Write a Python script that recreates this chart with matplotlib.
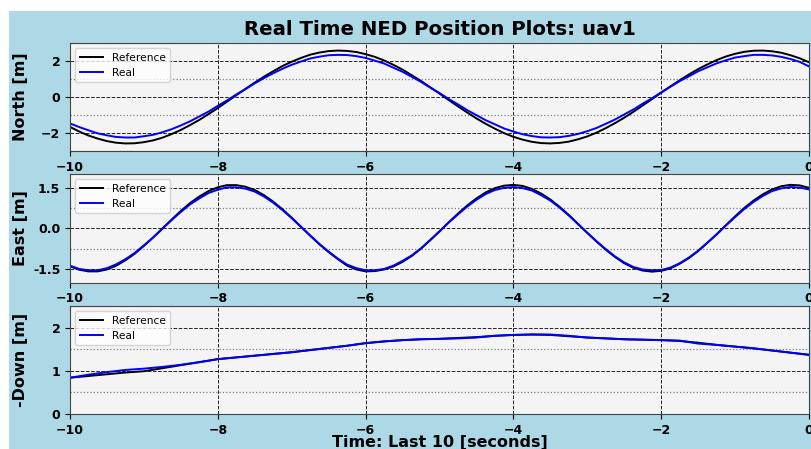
import matplotlib
matplotlib.use("Agg")
import matplotlib.pyplot as plt
from matplotlib.patches import Rectangle
from matplotlib.ticker import MultipleLocator

# time axes (seconds, last 10 s)
time_fine = [-10 + 0.125 * k for k in range(81)]
time_down = [-10 + 0.25 * k for k in range(41)]

north_ref = [-1.66, -1.92, -2.14, -2.31, -2.45, -2.54, -2.58, -2.57, -2.51, -2.41,
             -2.26, -2.06, -1.83, -1.56, -1.27, -0.95, -0.61, -0.26, 0.10, 0.45,
             0.80, 1.13, 1.43, 1.72, 1.96, 2.17, 2.35, 2.47, 2.55, 2.58,
             2.56, 2.50, 2.38, 2.23, 2.03, 1.79, 1.52, 1.21, 0.89, 0.54,
             0.19, -0.17, -0.52, -0.86, -1.19, -1.49, -1.76, -2.01, -2.21, -2.37,
             -2.49, -2.56, -2.58, -2.55, -2.48, -2.35, -2.19, -1.98, -1.73, -1.45,
             -1.15, -0.82, -0.47, -0.12, 0.24, 0.59, 0.93, 1.25, 1.55, 1.81,
             2.05, 2.25, 2.40, 2.51, 2.57, 2.58, 2.54, 2.46, 2.32, 2.15,
             1.93]
north_real = [-1.47, -1.67, -1.85, -2.02, -2.13, -2.22, -2.25, -2.25, -2.18, -2.10,
              -1.96, -1.79, -1.58, -1.35, -1.08, -0.81, -0.49, -0.19, 0.14, 0.44,
              0.76, 1.05, 1.32, 1.57, 1.79, 1.97, 2.14, 2.24, 2.32, 2.34,
              2.33, 2.27, 2.17, 2.02, 1.86, 1.63, 1.40, 1.12, 0.84, 0.52,
              0.22, -0.11, -0.41, -0.73, -1.01, -1.29, -1.52, -1.75, -1.92, -2.07,
              -2.17, -2.24, -2.25, -2.23, -2.16, -2.05, -1.90, -1.72, -1.49, -1.25,
              -0.97, -0.69, -0.37, -0.07, 0.26, 0.57, 0.88, 1.15, 1.43, 1.65,
              1.87, 2.04, 2.19, 2.27, 2.34, 2.34, 2.31, 2.23, 2.11, 1.95,
              1.70]

east_ref = [-1.40, -1.53, -1.59, -1.59, -1.52, -1.38, -1.18, -0.94, -0.65, -0.34,
            -0.01, 0.32, 0.64, 0.93, 1.17, 1.37, 1.51, 1.59, 1.59, 1.53,
            1.41, 1.22, 0.98, 0.70, 0.39, 0.06, -0.27, -0.59, -0.88, -1.14,
            -1.38, -1.52, -1.59, -1.58, -1.52, -1.41, -1.24, -1.02, -0.75, -0.44,
            -0.11, 0.22, 0.54, 0.84, 1.10, 1.32, 1.48, 1.57, 1.60, 1.56,
            1.45, 1.28, 1.06, 0.79, 0.49, 0.16, -0.17, -0.49, -0.79, -1.06,
            -1.29, -1.46, -1.56, -1.60, -1.57, -1.48, -1.31, -1.10, -0.84, -0.54,
            -0.22, 0.11, 0.44, 0.75, 1.02, 1.25, 1.43, 1.55, 1.60, 1.58,
            1.49]
east_real = [-1.38, -1.50, -1.55, -1.55, -1.47, -1.33, -1.14, -0.91, -0.63, -0.34,
             -0.02, 0.30, 0.60, 0.88, 1.10, 1.30, 1.42, 1.51, 1.51, 1.46,
             1.35, 1.17, 0.94, 0.67, 0.37, 0.05, -0.27, -0.58, -0.86, -1.12,
             -1.34, -1.47, -1.55, -1.55, -1.50, -1.38, -1.20, -1.00, -0.74, -0.43,
             -0.12, 0.21, 0.51, 0.80, 1.05, 1.26, 1.41, 1.49, 1.52, 1.48,
             1.39, 1.22, 1.02, 0.76, 0.47, 0.15, -0.17, -0.48, -0.77, -1.04,
             -1.26, -1.43, -1.52, -1.55, -1.54, -1.45, -1.29, -1.08, -0.83, -0.53,
             -0.23, 0.10, 0.41, 0.71, 0.97, 1.19, 1.37, 1.47, 1.52, 1.50,
             1.43]

down_ref = [0.84, 0.88, 0.92, 0.96, 0.99, 1.06, 1.13, 1.20, 1.27, 1.31,
            1.35, 1.39, 1.43, 1.48, 1.53, 1.58, 1.64, 1.68, 1.71, 1.73,
            1.74, 1.76, 1.78, 1.81, 1.83, 1.84, 1.83, 1.80, 1.77, 1.75,
            1.73, 1.72, 1.71, 1.69, 1.65, 1.60, 1.56, 1.52, 1.47, 1.42, 1.37]
down_real = [0.84, 0.91, 0.97, 1.02, 1.05, 1.09, 1.14, 1.20, 1.27, 1.31,
             1.35, 1.39, 1.43, 1.48, 1.53, 1.58, 1.64, 1.68, 1.71, 1.73,
             1.74, 1.75, 1.77, 1.81, 1.83, 1.84, 1.84, 1.81, 1.77, 1.75,
             1.73, 1.72, 1.71, 1.70, 1.63, 1.60, 1.56, 1.52, 1.47, 1.42, 1.37]

panels = [
    ("North [m]", time_fine, north_ref, north_real, (-3, 3), [-2, 0, 2], 1.0, None),
    ("East [m]", time_fine, east_ref, east_real, (-2, 2), [-1.5, 0.0, 1.5], 0.75, "%.1f"),
    ("-Down [m]", time_down, down_ref, down_real, (0, 2.5), [0, 1, 2], 0.5, None),
]
x_ticks = [-10, -8, -6, -4, -2, 0]

W, H = 812, 449
fig = plt.figure(figsize=(W / 100, H / 100), dpi=100, facecolor="white")
fig.patches.append(Rectangle((9 / W, 0), 1 - 9 / W, 1 - 11 / H,
                             transform=fig.transFigure, facecolor="#add8e6",
                             edgecolor="none", zorder=-10))

boxes = [(43, 151), (174, 282.5), (306, 414)]
left, right = 70, 809
axes = []
for (top, bot), (ylab, tt, ref, real, ylim, yt, minor, fmt) in zip(boxes, panels):
    ax = fig.add_axes([left / W, (H - bot) / H, (right - left) / W, (bot - top) / H])
    ax.set_facecolor("#f4f4f4")
    ax.plot(tt, ref, color="black", lw=1.4, label="Reference")
    ax.plot(tt, real, color="blue", lw=1.4, label="Real")
    ax.set_xlim(-10, 0)
    ax.set_ylim(*ylim)
    ax.set_xticks(x_ticks)
    ax.set_yticks(yt)
    if fmt:
        ax.set_yticklabels([fmt % v for v in yt])
    ax.yaxis.set_minor_locator(MultipleLocator(minor))
    ax.tick_params(axis="y", which="minor", length=0)
    ax.grid(True, which="major", color="black", linestyle="--", linewidth=0.7, alpha=0.85)
    ax.grid(True, which="minor", axis="y", color="grey", linestyle=":", linewidth=0.9)
    ax.set_axisbelow(True)
    for lab in ax.get_xticklabels() + ax.get_yticklabels():
        lab.set_fontweight("bold")
        lab.set_fontsize(9)
    ax.set_ylabel(ylab, fontsize=11.5, fontweight="bold")
    ax.yaxis.set_label_coords(-0.057, 0.5)
    for s in ax.spines.values():
        s.set_color("#444444")
    ax.legend(loc="upper left", fontsize=7.7, handlelength=2.2)
    axes.append(ax)

axes[0].set_title("Real Time NED Position Plots: uav1", fontsize=14.2, fontweight="bold", pad=6)
axes[2].set_xlabel("Time: Last 10 [seconds]", fontsize=11.5, fontweight="bold", labelpad=-1)

fig.savefig("out.png", dpi=100, facecolor=fig.get_facecolor())
